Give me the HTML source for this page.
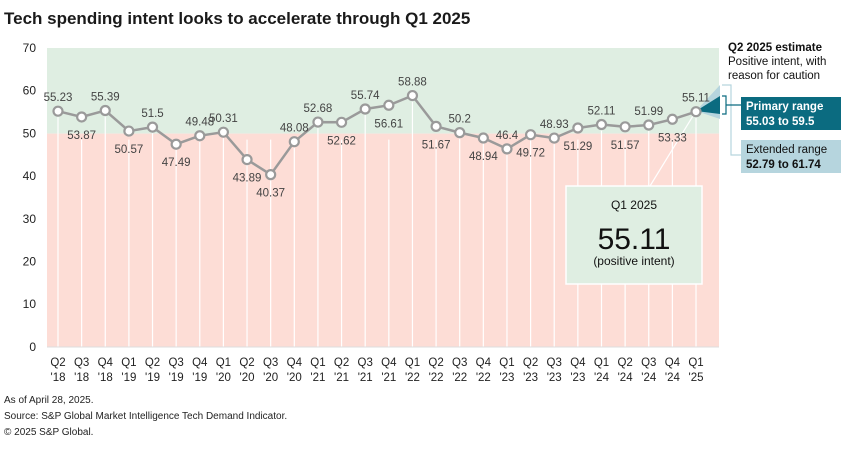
<!DOCTYPE html><html><head><style>body{margin:0;background:#fff}svg{display:block;font-family:"Liberation Sans",sans-serif}</style></head><body>
<svg width="860" height="450" viewBox="0 0 860 450">
<text x="4" y="24" font-size="17" font-weight="bold" fill="#1a1a1a">Tech spending intent looks to accelerate through Q1 2025</text>
<rect x="47" y="48" width="672" height="85.6" fill="#dfeee2"/>
<rect x="47" y="133.6" width="672" height="213.4" fill="#fdddd6"/>
<g id="grid" stroke="#fff" stroke-width="1.2"></g>
<line x1="47" y1="347" x2="719" y2="347" stroke="#ddd"/>
<g font-size="12" fill="#222" text-anchor="end">
<text x="36" y="52">70</text><text x="36" y="94.7">60</text><text x="36" y="137.4">50</text><text x="36" y="180">40</text><text x="36" y="222.8">30</text><text x="36" y="265.5">20</text><text x="36" y="308.2">10</text><text x="36" y="351">0</text>
</g>
<g id="xl" font-size="11.5" fill="#222" text-anchor="middle"></g>
<polygon points="696,111 720,85 720,119" fill="#b6d5de"/>
<polygon points="696,111 720,96 720,114" fill="#0b6b80"/>
<line x1="696" y1="111" x2="650" y2="186" stroke="#fff" stroke-width="1.2"/>
<rect x="566" y="186" width="136" height="98" fill="#dfeee2" stroke="#fff" stroke-width="1.5"/>
<text x="634" y="209" font-size="12" text-anchor="middle" fill="#111">Q1 2025</text>
<text x="634" y="249" font-size="30" text-anchor="middle" fill="#111">55.11</text>
<text x="634" y="265" font-size="12" text-anchor="middle" fill="#111">(positive intent)</text>
<polyline id="ln" fill="none" stroke="#9a9a9a" stroke-width="2.5"/>
<g id="pts"></g>
<g id="lbl" font-size="11.5" fill="#444" text-anchor="middle"></g>
<path d="M722,85 H731 V155 H741" fill="none" stroke="#b6d5de" stroke-width="1.2"/>
<path d="M722,96 H726 V114 H722 M726,105 H741" fill="none" stroke="#0b6b80" stroke-width="1.2"/>
<text x="728" y="51" font-size="11.5" font-weight="bold" fill="#111">Q2 2025 estimate</text>
<text x="728" y="65" font-size="11.5" fill="#111">Positive intent, with</text>
<text x="728" y="79" font-size="11.5" fill="#111">reason for caution</text>
<rect x="741" y="97" width="100" height="33" fill="#0b6b80"/>
<text x="746" y="110" font-size="11.5" font-weight="bold" fill="#fff">Primary range</text>
<text x="746" y="125" font-size="11.5" font-weight="bold" fill="#fff">55.03 to 59.5</text>
<rect x="741" y="140" width="100" height="33" fill="#b6d5de"/>
<text x="746" y="153" font-size="11.5" fill="#111">Extended range</text>
<text x="746" y="168" font-size="11.5" font-weight="bold" fill="#111">52.79 to 61.74</text>
<g font-size="10" fill="#222">
<text x="4" y="403">As of April 28, 2025.</text>
<text x="4" y="419">Source: S&amp;P Global Market Intelligence Tech Demand Indicator.</text>
<text x="4" y="435">© 2025 S&amp;P Global.</text>
</g>
</svg>
<script>
var v=[55.23,53.87,55.39,50.57,51.5,47.49,49.48,50.31,43.89,40.37,48.08,52.68,52.62,55.74,56.61,58.88,51.67,50.2,48.94,46.4,49.72,48.93,51.29,52.11,51.57,51.99,53.33,55.11];
var up=[1,0,1,0,1,0,1,1,0,0,1,1,0,1,0,1,0,1,0,1,0,1,0,1,0,1,0,1];
var q=["Q2","Q3","Q4","Q1"],ns="http://www.w3.org/2000/svg";
function el(t,a,p,tx){var e=document.createElementNS(ns,t);for(var k in a)e.setAttribute(k,a[k]);if(tx)e.textContent=tx;document.getElementById(p).appendChild(e);}
var pp=[];
for(var i=0;i<28;i++){var x=58+i*23.63,y=347-v[i]*4.27;pp.push(x.toFixed(1)+","+y.toFixed(1));
var yl=(up[i]?y:133.6);el("line",{x1:x,y1:yl+(up[i]?6:6),x2:x,y2:347},"grid");
el("circle",{cx:x,cy:y,r:4.5,fill:"#fff",stroke:"#9a9a9a","stroke-width":2.2},"pts");
el("text",{x:x,y:up[i]?y-10:y+22},"lbl",String(v[i]));
var yr=18+Math.floor((i+1)/4);el("text",{x:x,y:366},"xl",q[i%4]);el("text",{x:x,y:381},"xl","'"+yr);}
document.getElementById("ln").setAttribute("points",pp.join(" "));
</script>
</body></html>
